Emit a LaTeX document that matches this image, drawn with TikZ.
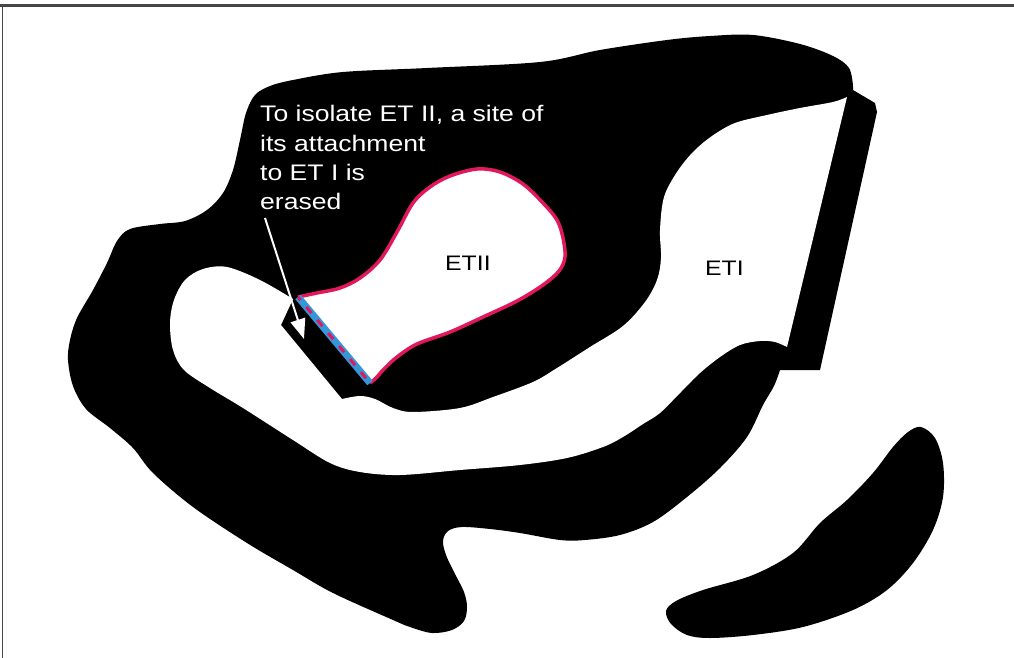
\documentclass[tikz,border=0pt]{standalone}
\usepackage{fontspec}
\setmainfont{Liberation Sans}[FakeStretch=1.18]
\usetikzlibrary{arrows.meta}
\definecolor{rimred}{RGB}{226,24,92}
\definecolor{cutblue}{RGB}{52,152,216}
\definecolor{framegray}{RGB}{70,70,70}
\tikzset{
  tissue/.style={fill=black},
  lumen/.style={fill=white},
  annot/.style={text=white, inner sep=0pt, anchor=base west, font=\fontsize{22.5}{26}\selectfont},
  region/.style={text=black, inner sep=0pt, anchor=base west, font=\fontsize{21}{25}\selectfont},
  pointer/.style={draw=white, line width=2pt, -{Triangle[length=20pt,width=15pt,fill=white]}},
  rim/.style={draw=rimred, line width=3.5pt, line join=round},
}
\begin{document}
\begin{tikzpicture}[x=1pt, y=-1pt]
\useasboundingbox (0,0) rectangle (1014,658);

% frame lines
\draw[framegray, line width=3pt] (0,5.5) -- (1014,5.5);
\draw[framegray, line width=1.8pt] (2.5,5.5) -- (2.5,658);

% main black body with the upper cap and the side bar
\fill[tissue] (853,90) -- (875,103) -- (877,112) -- (820,370) -- (780,370)
  -- plot[smooth, tension=0.55] coordinates {
    (780,370) (774,386) (763,405) (747,437) (720,468) (687,497) (653,522)
    (620,535) (585,540) (560,540) (520,533) (490,529) (462,527) (448,531)
    (443,541) (446,555) (454,572) (464,592) (467,607) (464,621) (452,630)
    (432,633) (410,627) (393,620) (333,593) (293,570) (247,543) (193,507)
    (153,473) (133,448) (110,428) (86,409) (73,386) (68,360) (70,340)
    (77,318) (93,290) (107,263) (117,241) (130,229) (160,224) (185,221)
    (207,210) (223,193) (233,170) (240,140) (246,113) (255,95) (270,86)
    (293,80) (343,72) (427,68) (540,62) (600,50) (667,40) (710,36)
    (753,35) (800,44) (833,56) (849,68) (853,86)}
  -- cycle;

% lower right lobe
\fill[tissue] plot[smooth cycle, tension=0.55] coordinates {
  (921,427) (935,438) (943,463) (943,497) (933,530) (913,563) (887,590)
  (853,610) (803,627) (753,635) (710,638) (687,635) (671,624) (666,611)
  (676,601) (703,590) (753,575) (793,553) (820,523) (847,500) (873,473)
  (893,447) (908,432)};

% white channel opening into ET I
\fill[lumen] (847,97) -- (787,347)
  -- plot[smooth, tension=0.55] coordinates {
    (787,347) (775,342) (760,341) (740,345) (720,357) (700,373) (680,393)
    (660,413) (643,424) (623,437) (603,447) (567,458) (520,465) (460,470)
    (400,475) (360,472) (330,463) (293,440) (243,408) (210,388) (184,370)
    (173,350) (170,323) (174,300) (185,280) (203,269) (227,267) (260,280)
    (293,299)}
  -- (281,325) -- (342,399)
  -- plot[smooth, tension=0.55] coordinates {
    (342,399) (360,396) (375,399) (393,408) (413,412) (460,408) (493,397)
    (533,382) (557,368) (590,347) (623,326) (645,302) (657,280) (661,258)
    (660,230) (664,197) (677,172) (693,152) (712,136) (735,123) (767,115)
    (800,108) (833,102) (847,97)}
  -- cycle;

% ET II, outlined in red
\fill[lumen] (298,297) -- (370,383)
  -- plot[smooth, tension=0.55] coordinates {
    (370,383) (376,378) (384,369) (397,357) (417,344) (450,332) (483,317)
    (517,301) (543,285) (559,271) (565,257) (563,238) (557,220) (543,203)
    (523,184) (500,172) (477,169) (450,176) (430,187) (413,203) (397,232)
    (380,260) (360,278) (340,288) (317,293) (298,297)}
  -- cycle;
\draw[rim] plot[smooth, tension=0.55] coordinates {
    (370,383) (376,378) (384,369) (397,357) (417,344) (450,332) (483,317)
    (517,301) (543,285) (559,271) (565,257) (563,238) (557,220) (543,203)
    (523,184) (500,172) (477,169) (450,176) (430,187) (413,203) (397,232)
    (380,260) (360,278) (340,288) (317,293) (298,297)};

% erased attachment site
\coordinate (cutA) at (298,297);
\coordinate (cutB) at (370,383);
\draw[cutblue, line width=7pt] (cutA) -- (cutB);
\draw[rimred, line width=3pt, dash pattern=on 8pt off 9pt, dash phase=4pt] (cutA) -- (cutB);

% labels
\node[annot] (note1) at (260,121.5) {To isolate ET II, a site of};
\node[annot] (note2) at (260,151) {its attachment};
\node[annot] (note3) at (260,180.5) {to ET I is};
\node[annot] (note4) at (260,209.5) {erased};
\node[region] (et2) at (445,270) {ETII};
\node[region] (et1) at (705,275) {ETI};

% pointer to the erased site
\coordinate (pointerTail) at (265,218);
\coordinate (pointerTip) at (304,339);
\draw[pointer] (pointerTail) -- (pointerTip);
\end{tikzpicture}
\end{document}
